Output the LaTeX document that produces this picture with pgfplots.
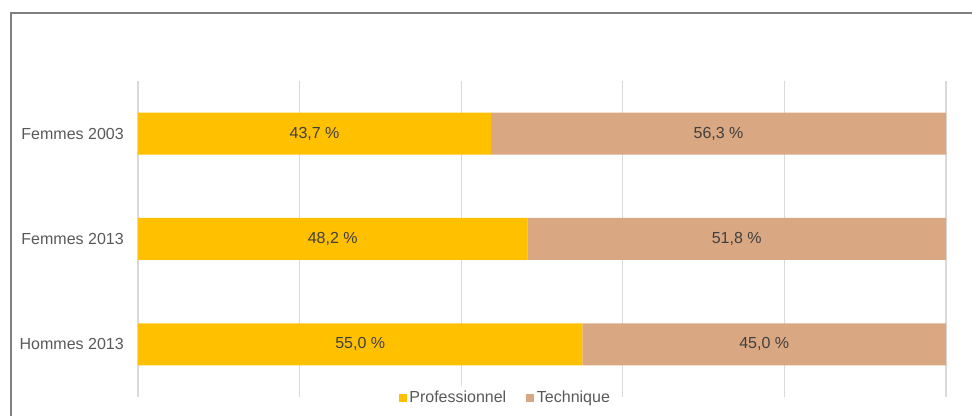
\documentclass[border=0pt]{standalone}
\usepackage{pgfplots}
\pgfplotsset{compat=1.18}
\usepackage{fontspec}
\setmainfont{Liberation Sans}
\definecolor{pro}{RGB}{255,192,0}
\definecolor{tech}{RGB}{217,167,129}
\definecolor{txt}{RGB}{89,89,89}
\definecolor{lab}{RGB}{64,64,64}
\definecolor{grd}{RGB}{217,217,217}
\newcommand{\lbl}{\fontsize{12}{14}\selectfont}
\pgfplotsset{
  frame/.style={
    at={(103.5pt,14.25pt)}, anchor=south west,
    scale only axis, width=606pt, height=237pt,
    xmin=0, xmax=100, ymin=-0.5, ymax=2.5, y dir=reverse,
  },
  sqleg/.style={legend image code/.code={\fill[##1] (0pt,-3pt) rectangle (6pt,3pt);}},
}

\begin{document}
\begin{tikzpicture}
\path[use as bounding box] (0pt,0pt) rectangle (729pt,312pt);
\draw[gray, line width=1.1pt] (8.25pt,0pt) -- (8.25pt,302.25pt) -- (729pt,302.25pt);

% bars
\begin{axis}[
    frame,
    xbar stacked, bar width=31.5pt,
    axis line style={draw=none},
    major tick length=0pt,
    xtick={0,20,...,100}, xticklabels={},
    xmajorgrids=true,
    grid style={grd, line width=1pt},
    ytick={0,1,2},
    yticklabels={Femmes 2003,Femmes 2013,Hommes 2013},
    yticklabel style={font=\lbl, text=txt, inner sep=0pt, xshift=-10.5pt},
    legend columns=2,
    legend style={at={(0.455,-0.003)}, anchor=center, draw=none, fill=white,
        font=\lbl, text=txt, inner sep=2pt,
        /tikz/every even column/.append style={column sep=13pt}},
]
\addplot[fill=pro, draw=none, sqleg] coordinates {(43.7,0) (48.2,1) (55.0,2)};
\addlegendentry{Professionnel}
\addplot[fill=tech, draw=none, sqleg] coordinates {(56.3,0) (51.8,1) (45.0,2)};
\addlegendentry{Technique}
\end{axis}

% value labels, centred in each segment
\begin{axis}[frame, hide axis]
\addplot[draw=none, mark=none, nodes near coords, point meta=explicit symbolic,
    nodes near coords style={anchor=center, font=\lbl, text=lab}]
coordinates {
    (21.85,0) [{43,7 \%}]
    (71.85,0) [{56,3 \%}]
    (24.1,1)  [{48,2 \%}]
    (74.1,1)  [{51,8 \%}]
    (27.5,2)  [{55,0 \%}]
    (77.5,2)  [{45,0 \%}]
};
\end{axis}
\end{tikzpicture}
\end{document}
